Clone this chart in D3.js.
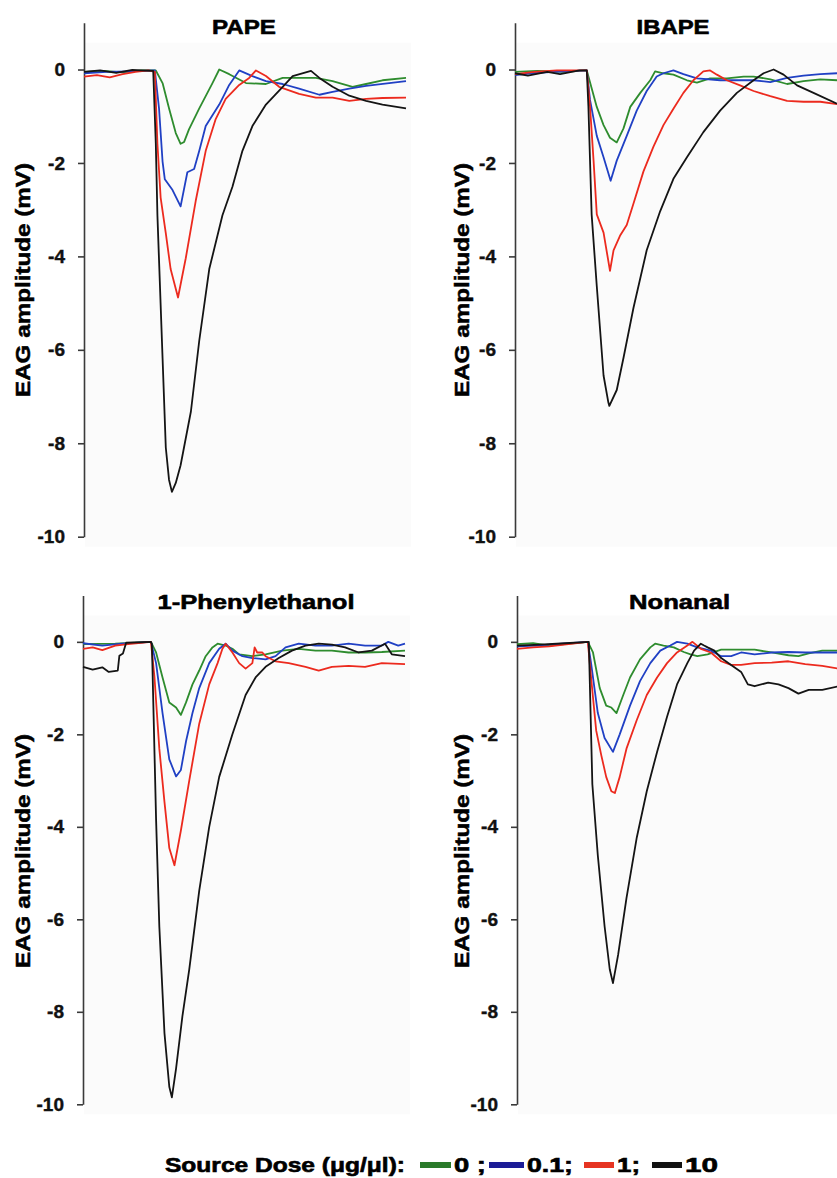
<!DOCTYPE html>
<html><head><meta charset="utf-8">
<script src="https://cdn.jsdelivr.net/npm/d3@7"></script>
<style>body{margin:0;background:#fff} svg{display:block}</style>
</head><body>
<svg id="c" width="837" height="1178"></svg>
<script>
// ---------------- data ----------------
const titles = ["PAPE", "IBAPE", "1-Phenylethanol", "Nonanal"];
const doseLabels = ["0 ;", "0.1;", "1;", "10"];
const legendTitle = "Source Dose (\u03bcg/\u03bcl):";
const yTicks = [0, -2, -4, -6, -8, -10];
const yLabel = "EAG amplitude (mV)";
const lineColors = ["#2e8c2e", "#2040c4", "#ec2a1e", "#141414"];
const legendColors = ["#2a7a2a", "#1c1c96", "#e63422", "#111111"];

// time (s, 0-10) , amplitude (mV)
const pape0 = [[0,-0.05],[0.6,-0.03],[1.2,-0.06],[1.8,-0.02],[2.23,-0.02],[2.44,-0.29],[2.64,-0.83],[2.85,-1.36],[3.0,-1.59],[3.11,-1.55],[3.26,-1.28],[3.58,-0.83],[3.99,-0.29],[4.2,0],[4.51,-0.1],[5.03,-0.29],[5.65,-0.31],[6.17,-0.18],[7.2,-0.18],[7.72,-0.25],[8.34,-0.37],[8.76,-0.31],[9.27,-0.23],[10,-0.18]];
const pape01 = [[0,-0.08],[0.7,-0.05],[1.4,-0.04],[2.2,-0.02],[2.33,-0.83],[2.44,-1.97],[2.51,-2.35],[2.75,-2.58],[3.0,-2.93],[3.21,-2.2],[3.42,-2.13],[3.58,-1.74],[3.78,-1.21],[4.2,-0.75],[4.51,-0.33],[4.82,-0.02],[5.23,-0.14],[5.65,-0.25],[6.17,-0.31],[6.68,-0.41],[7.31,-0.54],[7.72,-0.48],[8.24,-0.41],[8.76,-0.35],[10,-0.25]];
const pape1 = [[0,-0.15],[0.4,-0.12],[0.8,-0.17],[1.2,-0.1],[1.6,-0.05],[2.0,-0.02],[2.2,-0.05],[2.28,-1.59],[2.38,-2.74],[2.54,-3.5],[2.69,-4.27],[2.92,-4.88],[3.16,-4.04],[3.47,-2.81],[3.78,-1.74],[4.09,-1.06],[4.4,-0.63],[4.82,-0.33],[5.13,-0.18],[5.34,-0.02],[5.65,-0.14],[6.06,-0.37],[6.68,-0.52],[7.2,-0.6],[7.72,-0.6],[8.24,-0.67],[8.76,-0.63],[9.27,-0.61],[10,-0.6]];
const pape10 = [[0,-0.05],[0.5,-0.02],[1.0,-0.07],[1.5,-0.01],[2.15,-0.03],[2.23,-1.59],[2.28,-3.12],[2.44,-6.18],[2.54,-8.09],[2.64,-8.78],[2.73,-9.04],[2.85,-8.85],[3.0,-8.47],[3.32,-7.32],[3.58,-5.8],[3.89,-4.27],[4.3,-3.12],[4.61,-2.51],[4.92,-1.74],[5.23,-1.21],[5.65,-0.75],[6.17,-0.37],[6.48,-0.14],[7.05,-0.03],[7.31,-0.18],[7.72,-0.37],[8.24,-0.56],[8.76,-0.67],[9.27,-0.75],[10,-0.83]];

const ibape0 = [[0,-0.05],[0.7,-0.03],[1.5,-0.05],[2.23,-0.02],[2.54,-0.8],[2.75,-1.19],[2.95,-1.46],[3.16,-1.56],[3.37,-1.26],[3.58,-0.8],[3.89,-0.5],[4.2,-0.23],[4.35,-0.04],[4.61,-0.08],[4.92,-0.11],[5.34,-0.23],[5.65,-0.28],[6.06,-0.19],[6.58,-0.19],[7.1,-0.15],[7.41,-0.15],[7.93,-0.21],[8.45,-0.31],[8.96,-0.25],[9.48,-0.21],[10,-0.23]];
const ibape01 = [[0,-0.12],[0.5,-0.08],[1.2,-0.05],[2.23,-0.02],[2.33,-0.65],[2.54,-1.42],[2.75,-1.88],[2.97,-2.38],[3.16,-1.95],[3.47,-1.42],[3.78,-0.88],[4.09,-0.46],[4.4,-0.15],[4.61,-0.08],[4.92,-0.02],[5.23,-0.1],[5.65,-0.19],[6.37,-0.23],[7.41,-0.23],[7.93,-0.27],[8.45,-0.18],[8.96,-0.13],[9.48,-0.1],[10,-0.08]];
const ibape1 = [[0,-0.1],[0.6,-0.05],[1.3,-0.02],[2.23,-0.02],[2.33,-0.8],[2.44,-1.95],[2.54,-3.1],[2.75,-3.49],[2.95,-4.31],[3.06,-3.87],[3.26,-3.56],[3.47,-3.33],[3.68,-2.87],[3.99,-2.18],[4.3,-1.65],[4.61,-1.19],[4.92,-0.84],[5.23,-0.5],[5.54,-0.23],[5.85,-0.04],[6.06,-0.02],[6.27,-0.11],[6.58,-0.23],[6.99,-0.34],[7.41,-0.46],[7.93,-0.57],[8.45,-0.67],[8.96,-0.69],[9.48,-0.69],[10,-0.74]];
const ibape10 = [[0,-0.08],[0.4,-0.13],[1.0,-0.05],[1.4,-0.1],[2.0,-0.02],[2.23,-0.02],[2.28,-0.8],[2.38,-3.1],[2.54,-4.64],[2.75,-6.55],[2.9,-7.13],[2.93,-7.2],[3.16,-6.86],[3.37,-6.17],[3.68,-5.1],[4.09,-3.87],[4.51,-3.03],[4.92,-2.34],[5.34,-1.88],[5.85,-1.34],[6.37,-0.88],[6.89,-0.5],[7.41,-0.23],[7.72,-0.08],[8.03,0],[8.34,-0.11],[8.76,-0.34],[9.27,-0.5],[10,-0.73]];

const phen0 = [[0,-0.05],[1.0,-0.04],[2.11,0],[2.27,-0.23],[2.47,-0.77],[2.68,-1.31],[2.89,-1.42],[3.04,-1.58],[3.2,-1.31],[3.4,-0.92],[3.61,-0.62],[3.81,-0.31],[4.02,-0.12],[4.18,-0.04],[4.43,-0.08],[4.64,-0.15],[4.85,-0.27],[5.26,-0.31],[5.67,-0.27],[6.19,-0.19],[6.7,-0.15],[7.22,-0.19],[7.73,-0.19],[8.25,-0.23],[8.76,-0.23],[9.28,-0.22],[10,-0.19]];
const phen01 = [[0,-0.03],[0.6,-0.08],[1.2,-0.04],[2.11,0],[2.27,-0.46],[2.47,-1.54],[2.68,-2.54],[2.89,-2.91],[3.04,-2.77],[3.2,-2.15],[3.4,-1.54],[3.61,-1.0],[3.92,-0.46],[4.23,-0.15],[4.43,-0.04],[4.64,-0.19],[4.95,-0.31],[5.26,-0.35],[5.67,-0.38],[5.98,-0.31],[6.29,-0.12],[6.7,-0.04],[7.22,-0.08],[7.73,-0.08],[8.25,-0.04],[8.76,-0.08],[9.28,-0.08],[9.48,0],[9.79,-0.08],[10,-0.04]];
const phen1 = [[0,-0.15],[0.3,-0.12],[0.6,-0.18],[1.0,-0.08],[1.4,-0.05],[2.11,0],[2.22,-0.77],[2.37,-2.31],[2.53,-3.46],[2.68,-4.46],[2.84,-4.83],[3.04,-4.08],[3.3,-3.0],[3.61,-1.77],[3.92,-0.92],[4.18,-0.46],[4.33,-0.15],[4.43,-0.04],[4.64,-0.23],[4.85,-0.46],[5.05,-0.58],[5.26,-0.46],[5.33,-0.12],[5.41,-0.23],[5.57,-0.23],[5.67,-0.31],[5.98,-0.42],[6.39,-0.46],[6.91,-0.54],[7.32,-0.62],[7.73,-0.54],[8.25,-0.52],[8.76,-0.54],[9.28,-0.46],[10,-0.48]];
const phen10 = [[0,-0.54],[0.3,-0.6],[0.6,-0.55],[0.8,-0.65],[1.08,-0.62],[1.13,-0.3],[1.24,-0.25],[1.34,-0.02],[2.11,0],[2.14,-0.05],[2.27,-3.85],[2.37,-6.15],[2.53,-8.46],[2.68,-9.62],[2.76,-9.85],[2.89,-9.23],[3.09,-8.08],[3.3,-7.08],[3.61,-5.38],[3.92,-4.0],[4.23,-2.92],[4.64,-2.0],[5.05,-1.15],[5.36,-0.77],[5.67,-0.54],[6.08,-0.35],[6.49,-0.19],[6.91,-0.08],[7.32,-0.04],[7.73,-0.06],[8.14,-0.12],[8.56,-0.23],[8.97,-0.19],[9.38,-0.04],[9.59,-0.27],[10,-0.31]];

const non0 = [[0,-0.05],[0.5,-0.03],[1.0,-0.08],[2.2,0],[2.36,-0.23],[2.57,-1.0],[2.77,-1.38],[2.93,-1.42],[3.09,-1.54],[3.3,-1.15],[3.51,-0.77],[3.82,-0.38],[4.14,-0.12],[4.29,-0.04],[4.55,-0.08],[4.87,-0.12],[5.18,-0.22],[5.39,-0.27],[5.6,-0.31],[5.92,-0.27],[6.34,-0.17],[6.86,-0.17],[7.38,-0.17],[7.91,-0.23],[8.43,-0.29],[8.74,-0.31],[9.06,-0.25],[9.48,-0.19],[10,-0.19]];
const non01 = [[0,-0.1],[0.6,-0.08],[1.4,-0.04],[2.2,0],[2.3,-0.46],[2.51,-1.54],[2.72,-2.08],[2.98,-2.38],[3.19,-2.0],[3.51,-1.38],[3.82,-0.85],[4.14,-0.46],[4.45,-0.19],[4.76,-0.08],[4.97,0],[5.29,-0.04],[5.6,-0.12],[6.02,-0.19],[6.34,-0.31],[6.65,-0.31],[6.96,-0.23],[7.38,-0.27],[7.91,-0.23],[8.43,-0.22],[8.95,-0.23],[9.48,-0.23],[10,-0.23]];
const non1 = [[0,-0.15],[0.5,-0.12],[1.0,-0.1],[1.6,-0.05],[2.2,0],[2.3,-0.77],[2.46,-1.92],[2.62,-2.46],[2.77,-2.92],[2.93,-3.23],[3.04,-3.27],[3.19,-2.92],[3.4,-2.31],[3.72,-1.69],[4.03,-1.15],[4.35,-0.77],[4.66,-0.46],[4.97,-0.23],[5.29,-0.08],[5.45,0],[5.71,-0.15],[6.02,-0.23],[6.34,-0.42],[6.65,-0.5],[6.96,-0.5],[7.38,-0.46],[7.91,-0.45],[8.43,-0.42],[8.95,-0.48],[9.48,-0.52],[10,-0.58]];
const non10 = [[0,-0.08],[0.7,-0.06],[1.5,-0.03],[2.23,0],[2.34,-3.08],[2.51,-4.62],[2.72,-6.15],[2.88,-7.08],[2.98,-7.38],[3.14,-6.77],[3.4,-5.54],[3.72,-4.23],[4.03,-3.23],[4.35,-2.38],[4.66,-1.62],[4.97,-0.92],[5.29,-0.46],[5.5,-0.19],[5.71,-0.04],[5.81,-0.08],[5.92,-0.12],[6.13,-0.19],[6.34,-0.35],[6.65,-0.5],[6.96,-0.65],[7.17,-0.92],[7.38,-0.96],[7.8,-0.88],[8.12,-0.92],[8.43,-1.0],[8.74,-1.12],[9.06,-1.04],[9.48,-1.04],[10,-0.96]];

const panelSeries = [
  [pape0, pape01, pape1, pape10],
  [ibape0, ibape01, ibape1, ibape10],
  [phen0, phen01, phen1, phen10],
  [non0, non01, non1, non10]
];

// ---------------- layout ----------------
const layout = [
  {x0: 84,  top: 22.8,  bottom: 536.7,  labelX: 23,  labelY: 280, titleX: 244,   titleY: 34,  titleW: 64},
  {x0: 515, top: 22.8,  bottom: 536.7,  labelX: 462, labelY: 280, titleX: 673,   titleY: 34,  titleW: 73},
  {x0: 83,  top: 595.6, bottom: 1104.3, labelX: 23,  labelY: 851, titleX: 256,   titleY: 609, titleW: 197},
  {x0: 517, top: 595.6, bottom: 1104.3, labelX: 462, labelY: 851, titleX: 679.5, titleY: 609, titleW: 101}
];
const panelW = 322;
const FONT = "'Liberation Sans', Arial, sans-serif";

const svg = d3.select("#c");
svg.append("rect").attr("width", 837).attr("height", 1178).attr("fill", "#ffffff");

layout.forEach((L, i) => {
  const g = svg.append("g");
  const x = d3.scaleLinear().domain([0, 10]).range([L.x0, L.x0 + panelW]);
  const y = d3.scaleLinear().domain([-10, 1]).range([L.bottom, L.top]);

  // faint plot background
  g.append("rect").attr("x", L.x0 + 1).attr("y", L.top + 20)
    .attr("width", panelW + 4).attr("height", L.bottom - L.top - 10)
    .attr("fill", "#fbfbfb");

  // axis
  const ax = g.append("g").attr("transform", `translate(${L.x0},0)`)
    .call(d3.axisLeft(y).tickValues(yTicks).tickSize(6).tickSizeOuter(0).tickPadding(13)
      .tickFormat(d => d === 0 ? "0" : d3.format("d")(d).replace("\u2212", "-")));
  ax.select(".domain").attr("stroke", "#3a3a3a").attr("stroke-width", 1.6);
  ax.selectAll(".tick line").attr("stroke", "#3a3a3a").attr("stroke-width", 1.6);
  ax.selectAll(".tick text").attr("fill", "#111").attr("font-family", FONT)
    .attr("font-size", 19).attr("font-weight", "bold")
    .attr("stroke", "#111").attr("stroke-width", 0.4);

  // lines
  const line = d3.line().x(d => x(d[0])).y(d => y(d[1]));
  panelSeries[i].forEach((s, k) => {
    g.append("path").datum(s).attr("d", line)
      .attr("fill", "none").attr("stroke", lineColors[k])
      .attr("stroke-width", 1.8).attr("stroke-linejoin", "round");
  });

  // title
  g.append("text").attr("x", L.titleX).attr("y", L.titleY)
    .attr("text-anchor", "middle").attr("font-family", FONT)
    .attr("font-size", 21).attr("font-weight", "bold").attr("fill", "#000")
    .attr("stroke", "#000").attr("stroke-width", 0.6)
    .attr("textLength", L.titleW).attr("lengthAdjust", "spacingAndGlyphs")
    .text(titles[i]);

  // y label
  g.append("text")
    .attr("transform", `translate(${L.labelX},${L.labelY}) rotate(-90)`)
    .attr("text-anchor", "middle").attr("dominant-baseline", "central")
    .attr("font-family", FONT).attr("font-size", 20).attr("font-weight", "bold")
    .attr("fill", "#000").attr("stroke", "#000").attr("stroke-width", 0.5)
    .attr("textLength", 234).attr("lengthAdjust", "spacingAndGlyphs")
    .text(yLabel);
});

// ---------------- legend ----------------
const lg = svg.append("g").attr("font-family", FONT).attr("font-size", 20)
  .attr("font-weight", "bold").attr("fill", "#000");
const legY = 1172;
lg.append("text").attr("x", 165).attr("y", legY)
  .attr("stroke", "#000").attr("stroke-width", 0.6)
  .attr("textLength", 240).attr("lengthAdjust", "spacingAndGlyphs")
  .text(legendTitle);
const swX = [420, 489, 584, 652];
const swW = [31, 35, 30, 30];
const lblX = [454, 527, 617, 685];
const lblW = [32, 46, 23, 33];
doseLabels.forEach((d, k) => {
  lg.append("rect").attr("x", swX[k]).attr("y", legY - 10).attr("width", swW[k]).attr("height", 6)
    .attr("fill", legendColors[k]);
  lg.append("text").attr("x", lblX[k]).attr("y", legY)
    .attr("stroke", "#000").attr("stroke-width", 0.6)
    .attr("textLength", lblW[k]).attr("lengthAdjust", "spacingAndGlyphs")
    .text(d);
});
</script>
</body></html>
